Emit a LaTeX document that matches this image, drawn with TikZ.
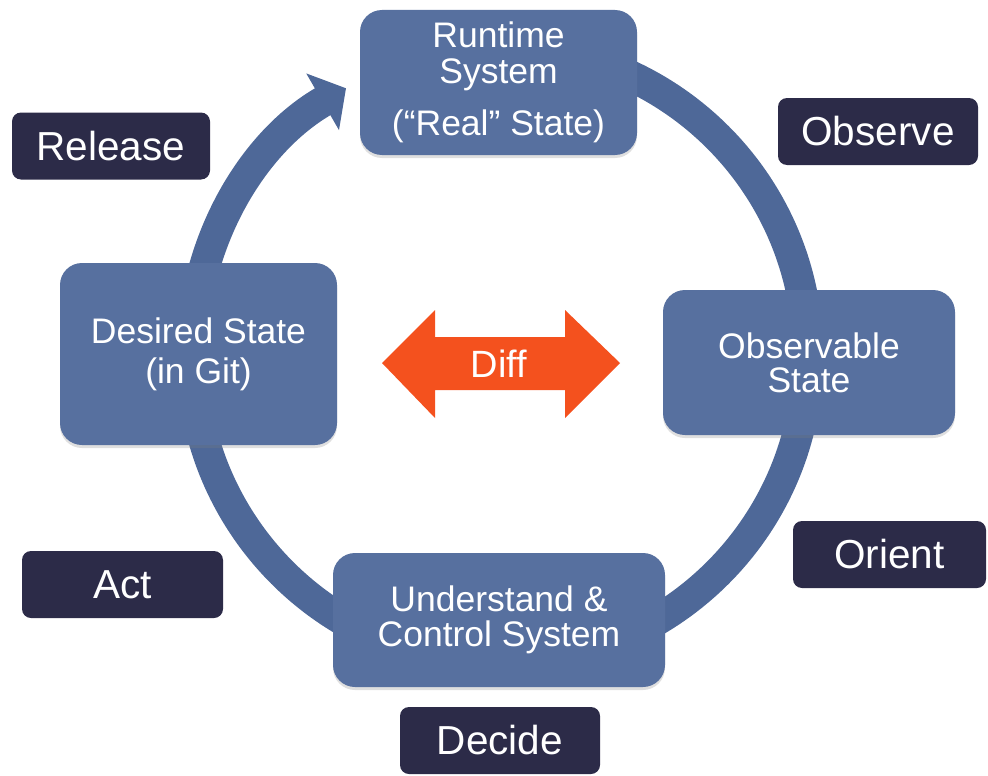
\documentclass[tikz,border=0pt]{standalone}
\usepackage{fontspec}
\setmainfont{Liberation Sans}
\usetikzlibrary{arrows.meta,shadows}
\definecolor{boxblue}{HTML}{57709F}
\definecolor{ringblue}{HTML}{4E6898}
\definecolor{labelnavy}{HTML}{2C2B48}
\definecolor{difforange}{HTML}{F4511E}
\tikzset{
  statebox/.style={fill=boxblue, rounded corners=22pt, inner sep=0pt, align=center,
    text=white, font=\fontsize{35.5}{37}\selectfont,
    drop shadow={shadow xshift=0pt, shadow yshift=-3pt, opacity=0.25}},
  phase/.style={fill=labelnavy, rounded corners=9pt, inner sep=0pt, text=white,
    font=\fontsize{40.5}{44}\selectfont, minimum height=67pt},
  ring/.style={draw=ringblue, line width=31pt,
    -{Triangle[width=64pt,length=27pt]}},
}
\begin{document}
\begin{tikzpicture}[x=1pt,y=-1pt]
\useasboundingbox (0,0) rectangle (988,776);
% ring with arrow head
\coordinate (c) at (500,355);
\draw[ring] (c) ++(-90:308) arc[start angle=-90, end angle=240, radius=308];
% diff arrow
\fill[difforange] (382,363) -- (435,310) -- (435,337) -- (565,337) -- (565,310)
  -- (620,363) -- (565,418) -- (565,390) -- (435,390) -- (435,418) -- cycle;
\node[text=white, font=\fontsize{38}{40}\selectfont] (diff) at (499,364) {Diff};
% state boxes
\node[statebox, minimum width=277pt, minimum height=145pt] (runtime) at (498.5,82.5)
  {Runtime\\[-1pt]System\\[15pt](“Real” State)};
\node[statebox, minimum width=277pt, minimum height=182pt] (desired) at (198.5,354)
  {Desired State\\[3pt](in Git)};
\node[statebox, minimum width=292pt, minimum height=145pt] (observable) at (809,362.5)
  {Observable\\[-3pt]State};
\node[statebox, minimum width=332pt, minimum height=134pt] (understand) at (499,620)
  {Understand \&\\[-2pt]Control System};
% phase labels
\node[phase, minimum width=198pt] (release) at (111,146) {Release};
\node[phase, minimum width=200pt] (observe) at (878,131.5) {Observe};
\node[phase, minimum width=193pt] (orient) at (889.5,554.5) {Orient};
\node[phase, minimum width=201pt] (act) at (122.5,584.5) {Act};
\node[phase, minimum width=200pt] (decide) at (500,740.5) {Decide};
\end{tikzpicture}
\end{document}
